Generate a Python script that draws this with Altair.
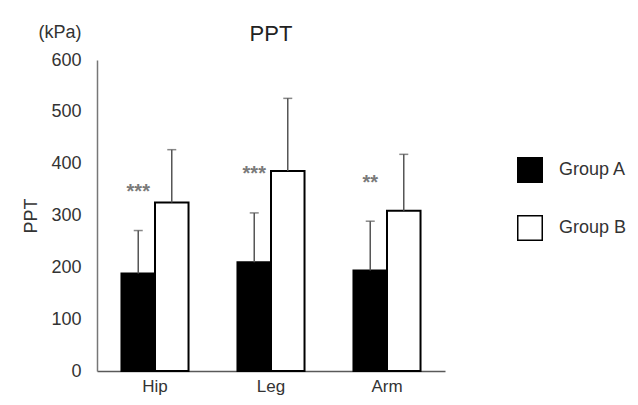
import altair as alt
import pandas as pd

categories = ["Hip", "Leg", "Arm"]
groups = ["Group A", "Group B"]
mean_a = [188, 210, 194]
mean_b = [325, 386, 309]
sd_a = [83, 95, 95]
sd_b = [102, 140, 109]
sig_labels = ["***", "***", "**"]
sig_y = [346, 380, 363]
unit_label = ["(kPa)"]

rows = []
for i, c in enumerate(categories):
    rows.append({"part": c, "group": "Group A", "mean": mean_a[i], "upper": mean_a[i] + sd_a[i]})
    rows.append({"part": c, "group": "Group B", "mean": mean_b[i], "upper": mean_b[i] + sd_b[i]})
df = pd.DataFrame(rows)
sig = pd.DataFrame({"part": categories, "group": ["Group A"] * 3, "y": sig_y, "label": sig_labels})
unit_df = pd.DataFrame({"label": unit_label})

FONT = "Liberation Sans"
x_enc = alt.X("part:N", sort=categories,
              scale=alt.Scale(paddingInner=0, paddingOuter=0),
              axis=alt.Axis(title=None, ticks=False, labelAngle=0, labelFontSize=17,
                            labelColor="#333333", labelPadding=7, labelFont=FONT,
                            domainColor="#595959", domainWidth=1.5))
xo = alt.XOffset("group:N", sort=groups, scale=alt.Scale(paddingInner=0, paddingOuter=0.73))
y_scale = alt.Scale(domain=[0, 600], nice=False)

bars = alt.Chart(df).mark_bar(stroke="black", strokeWidth=2).encode(
    x=x_enc, xOffset=xo,
    y=alt.Y("mean:Q", scale=y_scale,
            axis=alt.Axis(title="PPT", values=[0, 100, 200, 300, 400, 500, 600], grid=False,
                          ticks=False, labelFontSize=18, labelColor="#333333", labelFont=FONT,
                          labelPadding=16, domainColor="#777777", domainWidth=1.5,
                          titleFont=FONT, titleFontSize=18, titleFontWeight="normal",
                          titleColor="#333333", titlePadding=10)),
    fill=alt.Fill("group:N", sort=groups,
                  scale=alt.Scale(domain=groups, range=["black", "white"]),
                  legend=alt.Legend(title=None, orient="none", legendX=420, legendY=97,
                                    symbolType="square", symbolSize=600,
                                    symbolStrokeColor="black", symbolStrokeWidth=1.5,
                                    labelFontSize=18, labelColor="#333333", labelFont=FONT,
                                    labelOffset=16, rowPadding=26, padding=0)),
)

err = alt.Chart(df).mark_rule(color="#555555", strokeWidth=1.5).encode(
    x=x_enc, xOffset=xo, y="mean:Q", y2="upper:Q")
caps = alt.Chart(df).mark_tick(color="#555555", thickness=1.5, size=9).encode(
    x=x_enc, xOffset=xo, y="upper:Q")
stars = alt.Chart(sig).mark_text(color="#7a7a7a", fontSize=20, font=FONT, fontWeight="bold",
                                 baseline="middle").encode(
    x=x_enc, xOffset=xo,
    y=alt.Y("y:Q", scale=y_scale), text="label:N")
unit = alt.Chart(unit_df).mark_text(fontSize=18, font=FONT, color="#333333", align="center",
                                    baseline="middle").encode(
    x=alt.value(-37), y=alt.value(-27), text="label:N")

chart = alt.layer(bars, err, caps, stars, unit).properties(
    width=348, height=311,
    title=alt.Title("PPT", fontSize=22, font=FONT, fontWeight="normal", color="#222222",
                    offset=-44, baseline="bottom"),
    autosize=alt.AutoSizeParams(type="none"),
    padding={"left": 89, "top": 52, "right": 185, "bottom": 26},
).configure_view(stroke=None)

chart.save("out.html", embed_options={"renderer": "svg", "actions": False})
